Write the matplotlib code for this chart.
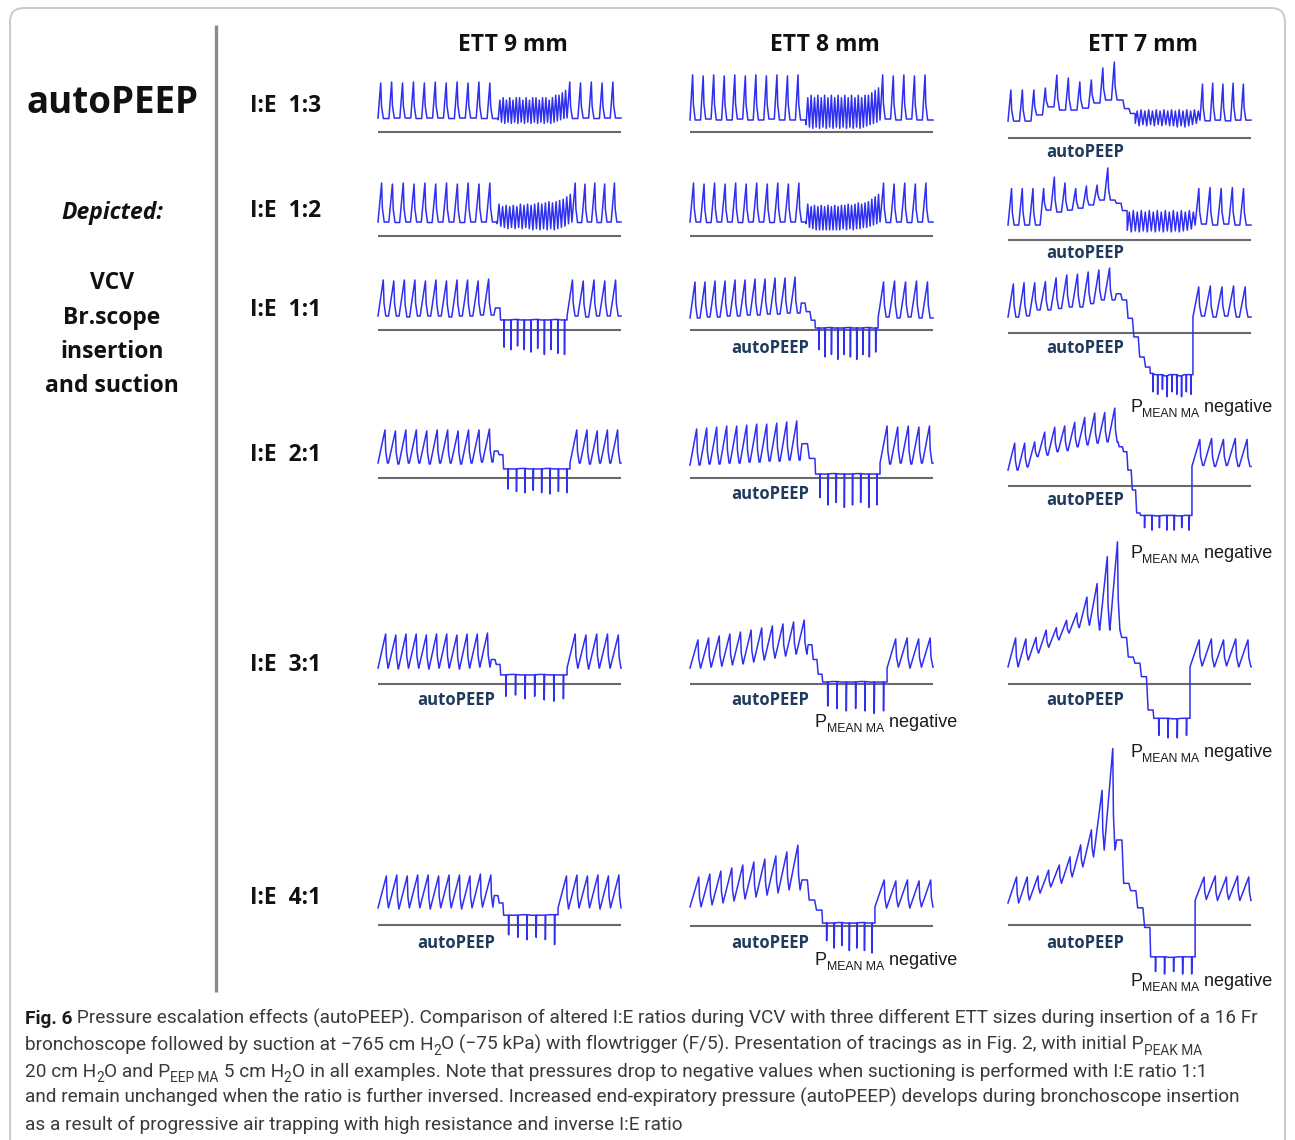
import matplotlib
matplotlib.use('Agg')

import matplotlib.pyplot as plt
from matplotlib import font_manager
from matplotlib.patches import FancyBboxPatch

W, H = 1295, 1140

ratios = ["1:3", "1:2", "1:1", "2:1", "3:1", "4:1"]
tubes = ["ETT 9 mm", "ETT 8 mm", "ETT 7 mm"]
depicted = ["VCV", "Br.scope", "insertion", "and suction"]

# pressures in cm H2O, time in % of each tracing; one entry per I:E row
# times = [end of ventilation, end of insertion steps, end of suction]

# ---- ETT 9 mm
e9_times = [[49.4, 49.4, 77.8], [49.0, 49.0, 79.8], [47.7, 50.2, 77.8],
            [47.3, 51.4, 79.0], [46.1, 50.2, 77.8], [47.3, 51.4, 74.1]]
e9_pre_peak = [
    [20.0, 20.4, 20.0, 20.4, 20.0, 20.4, 20.0, 20.4, 20.0, 20.4, 20.0],
    [21.6, 21.2, 21.6, 21.2, 21.6, 21.2, 21.6, 21.2, 21.6, 21.2, 21.6],
    [20.4, 20.0, 20.4, 20.4, 20.0, 20.4, 20.0, 20.4, 20.4, 20.0, 20.8],
    [19.6, 19.2, 19.6, 19.6, 19.2, 19.6, 19.6, 19.2, 19.6, 19.6, 20.0],
    [20.4, 20.0, 20.4, 20.4, 20.0, 20.4, 20.4, 20.0, 20.4, 20.4, 20.8],
    [20.0, 20.4, 20.0, 20.4, 20.4, 20.0, 20.4, 20.4, 20.0, 20.8, 20.4]]
e9_pre_trough = [
    [5.7, 5.5, 5.7, 5.7, 5.5, 5.7, 5.7, 5.5, 5.7, 5.7, 5.5],
    [5.7, 5.7, 5.5, 5.7, 5.7, 5.5, 5.7, 5.7, 5.5, 5.7, 5.7],
    [5.7, 5.7, 5.7, 5.3, 5.7, 5.7, 5.7, 5.3, 5.7, 5.7, 6.1],
    [6.1, 6.1, 5.7, 6.1, 6.1, 5.7, 6.1, 6.1, 5.7, 6.1, 6.5],
    [6.5, 6.5, 6.1, 6.5, 6.5, 6.1, 6.5, 6.5, 6.1, 6.5, 6.9],
    [7.0, 7.0, 6.5, 7.0, 7.0, 6.5, 7.0, 7.0, 6.5, 7.0, 7.3]]
e9_steps = [[], [], [9.0], [11.0, 9.5], [10.0, 8.0], [12.0, 9.0]]
e9_suct_hi = [
    [13, 14, 13, 14, 13, 14, 14, 13, 14, 13, 14, 14, 13, 14, 14, 13, 14, 15, 15, 16, 17],
    [13, 12, 12.5, 12, 12.5, 12, 13, 12.5, 13, 12.5, 13, 13.5, 13, 13.5, 14, 13.5, 14, 14.5, 15, 16, 17],
    [4.1, 4.1, 4.3, 4.1, 4.1, 4.3, 4.1, 4.1, 4.3, 4.1],
    [3.7, 3.7, 3.9, 3.7, 3.7, 3.9, 3.7, 3.7],
    [3.7, 3.9, 3.7, 3.7, 3.9, 3.7, 3.7],
    [4.0, 4.0, 4.2, 4.0, 4.0, 4.2]]
e9_suct_lo = [
    [5, 4, 3.5, 4, 3.5, 4, 3.5, 4, 3.5, 4, 3.5, 4, 3.5, 4, 3.5, 4, 3.5, 4, 4.5, 5, 5.5],
    [5, 4, 3.5, 3, 3.5, 3, 3.5, 3, 3.5, 3, 2.5, 3, 2.5, 3, 2.5, 3, 2.5, 3, 3.5, 4, 5],
    [-7, -8, -6.5, -8, -9, -7.5, -10, -8, -9.5, -10],
    [-4.5, -5.5, -6, -5, -6, -6.5, -5.5, -6],
    [-5, -4.5, -6, -5, -6.5, -7, -6],
    [-4, -5, -6, -5, -6, -8]]
e9_post_peak = [[20.4, 20.0, 20.4, 20.0, 20.4], [21.6, 21.2, 21.6, 21.2, 21.6],
                [20.4, 20.0, 20.4, 20.0, 20.4], [19.6, 19.6, 19.2, 19.6, 19.6],
                [20.4, 20.0, 20.4, 20.4, 20.0], [20.0, 20.4, 20.0, 20.4, 20.0, 20.4]]
e9_post_trough = [[5.7, 5.5, 5.7, 5.5, 5.7], [5.7, 5.5, 5.7, 5.5, 5.7],
                  [5.7, 5.7, 5.3, 5.7, 5.7], [6.1, 6.1, 5.7, 6.1, 6.1],
                  [6.5, 6.5, 6.1, 6.5, 6.5], [7.0, 6.5, 7.0, 7.0, 6.5, 7.0]]

# ---- ETT 8 mm
e8_times = [[47.7, 47.7, 78.2], [47.7, 47.7, 78.2], [45.3, 51.4, 77.4],
            [45.3, 51.4, 78.2], [48.1, 54.3, 81.1], [45.3, 54.3, 76.1]]
e8_pre_peak = [
    [23.3, 22.9, 23.3, 22.9, 23.3, 22.9, 23.3, 22.9, 23.3, 22.9, 23.3],
    [21.6, 21.2, 21.6, 21.2, 21.6, 21.2, 21.6, 21.2, 21.6, 21.2, 21.6],
    [19.6, 19.6, 20.0, 20.0, 20.4, 20.4, 20.8, 20.8, 21.2, 21.2, 21.6],
    [20.0, 20.4, 20.8, 21.2, 21.2, 21.6, 22.0, 22.0, 22.4, 22.9, 23.3],
    [18.0, 18.8, 19.6, 20.4, 21.2, 22.0, 22.9, 23.7, 24.5, 25.3, 26.1],
    [20.0, 21.2, 22.4, 23.7, 24.9, 26.1, 27.3, 28.6, 30.2, 33.0]]
e8_pre_trough = [
    [4.9, 4.9, 5.3, 4.9, 4.9, 5.3, 4.9, 4.9, 5.3, 4.9, 4.9],
    [5.7, 5.7, 5.5, 5.7, 5.7, 5.5, 5.7, 5.7, 5.5, 5.7, 5.7],
    [4.9, 4.9, 5.3, 5.3, 5.7, 5.7, 6.1, 6.1, 6.5, 6.5, 6.9],
    [5.3, 5.3, 5.7, 5.7, 6.1, 6.1, 6.5, 6.5, 6.9, 6.9, 7.3],
    [6.5, 6.5, 6.9, 7.3, 7.8, 8.2, 9.0, 9.8, 10.6, 11.4, 12.2],
    [7.8, 7.8, 8.6, 9.4, 10.2, 11.0, 11.8, 12.6, 13.5, 14.7]]
e8_steps = [[], [], [11.0, 7.5, 4.0], [14.0, 8.0], [16.0, 10.0, 4.0], [18.8, 10.6, 6.5]]
e8_suct_hi = [
    [14, 15, 14, 15, 14, 15, 14, 15, 14, 15, 14, 15, 14, 15, 14, 15, 14, 15, 15, 16, 17, 18],
    [13, 12, 12.5, 12, 12.5, 12, 12.5, 12, 12.5, 12, 12.5, 12.5, 13, 12.5, 13, 13.5, 13, 13.5, 14, 15, 16, 17],
    [0.8, 0.8, 1.0, 0.8, 0.8, 1.0, 0.8, 0.8, 1.0, 0.8],
    [1.6, 1.6, 1.8, 1.6, 1.6, 1.8, 1.6, 1.6],
    [0.8, 1.0, 0.8, 0.8, 1.0, 0.8, 0.8],
    [1.2, 1.2, 1.4, 1.2, 1.2, 1.4, 1.2]]
e8_suct_lo = [
    [3, 2, 1.5, 2, 1.5, 2, 1.5, 2, 1.5, 2, 1.5, 2, 1.5, 2, 1.5, 2, 1.5, 2, 2.5, 3, 3.5, 4],
    [5, 3.5, 3, 2.5, 2.5, 2.5, 2.5, 2.5, 2.5, 2.5, 2.5, 3, 2.5, 3, 2.5, 3, 3, 3.5, 3.5, 4, 4.5, 5],
    [-8, -11, -10, -12, -10, -11, -12, -10, -11, -9],
    [-8, -11, -10, -12, -11, -10, -12, -11],
    [-9, -10, -11, -10, -11, -12, -11],
    [-6, -9, -8, -10, -9, -10, -11]]
e8_post_peak = [[23.3, 22.9, 23.3, 22.9, 23.3], [21.6, 21.2, 21.6, 21.2, 21.6],
                [19.6, 20.0, 19.6, 20.0, 19.6], [21.2, 20.8, 21.2, 20.8, 21.2],
                [18.4, 18.8, 18.4, 18.8], [18.8, 18.4, 18.8, 18.4, 18.8]]
e8_post_trough = [[4.9, 5.3, 4.9, 5.3, 4.9], [5.7, 5.5, 5.7, 5.5, 5.7],
                  [4.9, 5.3, 4.9, 5.3, 4.9], [6.1, 5.7, 6.1, 5.7, 6.1],
                  [6.5, 6.9, 6.5, 6.9], [7.8, 7.3, 7.8, 7.3, 7.8]]

# ---- ETT 7 mm
e7_times = [[47.3, 52.3, 79.0], [44.0, 49.0, 77.0], [44.0, 58.4, 76.1],
            [45.3, 54.3, 75.7], [46.1, 59.7, 74.9], [44.0, 58.4, 77.0]]
e7_pre_peak = [
    [19.6, 19.6, 19.6, 20.4, 25.7, 24.5, 22.9, 23.7, 28.6, 31.0],
    [21.0, 21.0, 21.0, 21.0, 25.7, 23.3, 21.0, 22.0, 22.4, 29.4],
    [20.0, 20.5, 20.5, 21.0, 22.5, 23.7, 24.0, 24.9, 25.7, 26.5],
    [17.5, 17.5, 18.0, 22.0, 24.0, 24.5, 26.0, 28.0, 29.8, 30.0, 31.8],
    [18.8, 18.4, 19.0, 22.0, 23.0, 26.0, 29.0, 35.5, 41.0, 52.0, 58.0],
    [19.6, 19.6, 20.0, 22.4, 24.5, 27.8, 32.7, 38.8, 55.0, 72.0]]
e7_pre_trough = [
    [6.9, 6.9, 6.9, 9.4, 12.7, 11.4, 11.4, 12.2, 14.3, 15.5],
    [6.1, 6.1, 6.1, 6.1, 12.2, 11.4, 12.2, 13.0, 14.3, 16.3],
    [6.5, 6.5, 7.0, 9.4, 9.4, 10.0, 10.6, 10.6, 12.0, 13.5],
    [6.5, 6.5, 7.8, 12.0, 12.6, 14.0, 14.5, 16.0, 16.8, 17.5, 18.0],
    [7.0, 7.0, 9.8, 12.6, 15.0, 18.0, 20.8, 23.0, 24.0, 22.0, 22.0],
    [9.0, 9.0, 10.2, 13.0, 15.5, 17.0, 19.6, 23.7, 27.8, 30.6]]
e7_steps = [[12.0, 10.0], [15.0, 12.0], [16.0, 13.5, 6.0, -1.6, -9.8, -13.9],
            [16.0, 14.0, 6.5, -1.6, -11.0], [19.0, 11.0, 8.5, 3.0, -10.6],
            [34.7, 17.0, 14.0, 7.0, -1.0]]
e7_suct_hi = [
    [11, 11.5, 11, 11.5, 11, 11.5, 11, 11.5, 11, 11.5, 11, 11.5, 11, 11.5, 11, 11.5, 11],
    [11.4, 12, 11.4, 12, 11.4, 12, 11.4, 12, 11.4, 12, 11.4, 12, 11.4, 12, 11.4, 12, 11.4],
    [-16.5, -17, -17, -17.5, -17, -17, -17.5, -17, -17],
    [-12, -12, -12.2, -12, -12, -12.2, -12],
    [-14, -14, -14.2, -14],
    [-13, -13, -13.2, -13, -13]]
e7_suct_lo = [
    [6, 5, 5.5, 5, 5.5, 5, 5.5, 5, 5.5, 5, 5, 4.5, 5, 4.5, 5, 5.5, 6],
    [4, 3.3, 3.7, 3.3, 3.7, 3.3, 3.7, 3.3, 3.7, 3.3, 3.7, 3.3, 3.7, 3.3, 3.7, 4, 4.5],
    [-24, -25, -23, -26, -24, -25, -26, -24, -25],
    [-17, -18, -17, -18, -18, -17, -18],
    [-21, -22, -22, -21],
    [-19, -20, -19, -20, -20]]
e7_post_peak = [[22.0, 22.4, 22.0, 22.4, 22.0], [21.0, 21.4, 21.0, 21.4, 21.0],
                [18.8, 19.2, 18.8, 19.2, 18.8], [19.0, 19.4, 19.0, 19.4, 19.0],
                [18.0, 18.4, 18.0, 18.4, 18.0], [19.6, 20.0, 19.6, 20.0, 19.6]]
e7_post_trough = [[7.3, 7.0, 7.3, 7.0, 7.3], [6.1, 6.5, 6.1, 6.5, 6.1],
                  [6.5, 6.9, 6.5, 6.9, 6.5], [8.0, 8.4, 8.0, 8.4, 8.0],
                  [7.0, 7.4, 7.0, 7.4, 7.0], [10.0, 10.4, 10.0, 10.4, 10.0]]

# which panels carry which annotation (column, row)
autopeep_panels = [(2, 0), (2, 1), (1, 2), (2, 2), (1, 3), (2, 3),
                   (0, 4), (1, 4), (2, 4), (0, 5), (1, 5), (2, 5)]
negative_panels = [(2, 2), (2, 3), (1, 4), (2, 4), (1, 5), (2, 5)]

caption = [
    [("Fig. 6", "b"), (" Pressure escalation effects (autoPEEP). Comparison of altered I:E ratios during VCV "
                       "with three different ETT sizes during insertion of a 16 Fr", "n")],
    [("bronchoscope followed by suction at \u2212765 cm H", "n"), ("2", "s"),
     ("O (\u221275 kPa) with flowtrigger (F/5). Presentation of tracings as in Fig. 2, with initial P", "n"),
     ("PEAK MA", "s")],
    [("20 cm H", "n"), ("2", "s"), ("O and P", "n"), ("EEP MA", "s"), (" 5 cm H", "n"), ("2", "s"),
     ("O in all examples. Note that pressures drop to negative values when suctioning is performed "
      "with I:E ratio 1:1", "n")],
    [("and remain unchanged when the ratio is further inversed. Increased end-expiratory pressure "
      "(autoPEEP) develops during bronchoscope insertion", "n")],
    [("as a result of progressive air trapping with high resistance and inverse I:E ratio", "n")],
]

times = [e9_times, e8_times, e7_times]
pre_peak = [e9_pre_peak, e8_pre_peak, e7_pre_peak]
pre_trough = [e9_pre_trough, e8_pre_trough, e7_pre_trough]
steps = [e9_steps, e8_steps, e7_steps]
suct_hi = [e9_suct_hi, e8_suct_hi, e7_suct_hi]
suct_lo = [e9_suct_lo, e8_suct_lo, e7_suct_lo]
post_peak = [e9_post_peak, e8_post_peak, e7_post_peak]
post_trough = [e9_post_trough, e8_post_trough, e7_post_trough]

# ---------------------------------------------------------------- layout
col_left = [378, 690, 1008]
panel_w = 243
baselines = [[132, 132, 138], [236, 236, 240], [330, 330, 333],
             [478, 478, 486], [684, 684, 684], [925, 926, 925]]
row_label_y = [106, 211, 310, 455, 665, 898]
PX_PER_CM = 2.45
YLO, YHI = -40, 80

names = {f.name for f in font_manager.fontManager.ttflist}
cap_font = "Liberation Sans Narrow" if "Liberation Sans Narrow" in names else "Roboto"
LAB = ["Open Sans", "DejaVu Sans"]
TRACE = "#2f2ff2"
NAVY = "#1f3a5c"


def insp_fraction(r):
    i, e = (float(v) for v in r.split(":"))
    return i / (i + e)


def breath_path(t0, t1, peaks, troughs, fi):
    xs, ys = [], []
    n = len(peaks)
    T = (t1 - t0) / n
    fall = min(0.24, 1 - fi) * T
    for i in range(n):
        a = t0 + i * T
        e1 = troughs[i + 1] if i + 1 < n else troughs[i]
        top = a + fi * T
        xs += [a, top, top + 0.3 * fall, top + fall]
        ys += [troughs[i], peaks[i], e1 + 0.35 * (peaks[i] - e1), e1]
    xs.append(t1)
    ys.append(troughs[-1])
    return xs, ys


def step_path(t0, t1, levels):
    xs, ys = [], []
    if not levels:
        return xs, ys
    T = (t1 - t0) / len(levels)
    for i, lv in enumerate(levels):
        a = t0 + i * T
        xs += [a + 0.25 * T, a + T]
        ys += [lv, lv]
    return xs, ys


def osc_path(t0, t1, hi, lo):
    xs, ys = [], []
    T = (t1 - t0) / len(hi)
    for i in range(len(hi)):
        a = t0 + i * T
        xs += [a + 0.05 * T, a + 0.55 * T]
        ys += [lo[i], hi[i]]
    return xs, ys


def spike_path(t0, t1, lvl, mins):
    xs, ys = [], []
    T = (t1 - t0) / len(mins)
    for i in range(len(mins)):
        a = t0 + i * T
        xs += [a + 0.08 * T, a + 0.6 * T, a + 0.62 * T, a + 0.66 * T]
        ys += [lvl[i], lvl[i], mins[i], lvl[i]]
    xs.append(t1)
    ys.append(lvl[-1])
    return xs, ys


fig = plt.figure(figsize=(W / 100, H / 100), dpi=100)
bg = fig.add_axes([0, 0, 1, 1])
bg.set_xlim(0, W)
bg.set_ylim(H, 0)
bg.axis("off")

bg.add_patch(FancyBboxPatch((10, 8), W - 20, H + 40, boxstyle="round,pad=0,rounding_size=14",
                            ec="#c9c9c9", fc="white", lw=1.4))
bg.plot([216, 216], [25, 992], color="#8a8a8a", lw=2.4, solid_capstyle="butt")

# left block
bg.text(112, 103, "autoPEEP", ha="center", va="center", fontsize=26.5, fontweight="bold",
        family=LAB, color="#111111")
bg.text(112, 213, "Depicted:", ha="center", va="center", fontsize=16.5, fontweight="bold",
        style="italic", family=LAB, color="#111111")
for i, s in enumerate(depicted):
    bg.text(112, 283 + i * 34.5, s, ha="center", va="center", fontsize=16.5, fontweight="bold",
            family=LAB, color="#111111")

for c, name in enumerate(tubes):
    bg.text(col_left[c] + panel_w / 2 + 13, 45, name, ha="center", va="center", fontsize=16.5,
            fontweight="bold", family=LAB, color="#111111")
for r, rt in enumerate(ratios):
    bg.text(250, row_label_y[r], "I:E  " + rt, ha="left", va="center", fontsize=16.5,
            fontweight="bold", family=LAB, color="#111111")

# tracings
for c in range(3):
    for r in range(6):
        yb = baselines[r][c]
        ax = fig.add_axes([col_left[c] / W, 1 - (yb - YLO * PX_PER_CM) / H,
                           panel_w / W, (YHI - YLO) * PX_PER_CM / H])
        ax.set_xlim(0, 100)
        ax.set_ylim(YLO, YHI)
        ax.axis("off")
        ax.axhline(0, color="#6a6a6a", lw=1.5, zorder=1)

        t_pre, t_step, t_suct = times[c][r]
        fi = insp_fraction(ratios[r])
        xs, ys = breath_path(0, t_pre, pre_peak[c][r], pre_trough[c][r], fi)
        sx, sy = step_path(t_pre, t_step, steps[c][r])
        xs += sx
        ys += sy
        if fi < 0.5:
            sx, sy = osc_path(t_step, t_suct, suct_hi[c][r], suct_lo[c][r])
        else:
            sx, sy = spike_path(t_step, t_suct, suct_hi[c][r], suct_lo[c][r])
        xs += sx
        ys += sy
        sx, sy = breath_path(t_suct, 100, post_peak[c][r], post_trough[c][r], fi)
        xs += sx
        ys += sy
        ax.plot(xs, ys, color=TRACE, lw=1.1, clip_on=False, zorder=2)

top = fig.add_axes([0, 0, 1, 1])
top.set_xlim(0, W)
top.set_ylim(H, 0)
top.axis("off")


def rich(x, y, parts, size, family, color, sub_scale=0.72, drop=3.0, bold_color=None):
    prev, prev_sub = None, False
    for s, kind in parts:
        sub = kind == "s"
        kw = dict(fontsize=size * sub_scale if sub else size, family=family,
                  color=bold_color if (kind == "b" and bold_color) else color,
                  fontweight="bold" if kind == "b" else "normal", ha="left")
        if prev is None:
            prev = top.text(x, y, s, va="baseline", **kw)
        else:
            dy = -drop if sub else (drop if prev_sub else 0)
            prev = top.annotate(s, xy=(1, 0), xycoords=prev, xytext=(0, dy),
                                textcoords="offset points", va="bottom", **kw)
        prev_sub = sub


autopeep_xy = {(2, 0): (1085, 152), (2, 1): (1085, 253), (1, 2): (770, 348), (2, 2): (1085, 348),
               (1, 3): (770, 494), (2, 3): (1085, 500), (0, 4): (456, 700), (1, 4): (770, 700),
               (2, 4): (1085, 700), (0, 5): (456, 943), (1, 5): (770, 943), (2, 5): (1085, 943)}
for key in autopeep_panels:
    x, y = autopeep_xy[key]
    top.text(x, y, "autoPEEP", ha="center", va="center", fontsize=12, fontweight="bold",
             family=LAB, color=NAVY)

negative_xy = {(2, 2): (1130, 412), (2, 3): (1130, 558), (1, 4): (815, 727),
               (2, 4): (1130, 757), (1, 5): (815, 965), (2, 5): (1130, 986)}
for key in negative_panels:
    x, y = negative_xy[key]
    rich(x, y, [("P", "n"), ("MEAN MA", "s"), (" negative", "n")], 13,
         ["Liberation Sans", "DejaVu Sans"], "#1a1a1a", sub_scale=0.68, drop=3.2)

# caption: size chosen so that the first (full, justified) line spans the text block
renderer = fig.canvas.get_renderer()
pw = 0
for s, kind in caption[0]:
    probe = top.text(0, 0, s, fontsize=10, family=[cap_font, "DejaVu Sans"],
                     fontweight="bold" if kind == "b" else "normal")
    pw += probe.get_window_extent(renderer).width
    probe.remove()
cap_size = 10 * 1238 / pw
for i, line in enumerate(caption):
    rich(25, 1024 + i * 26.4, line, cap_size, [cap_font, "DejaVu Sans"], "#3a3a3a",
         sub_scale=0.72, drop=2.8, bold_color="#1a1a1a")

fig.savefig("out.png", dpi=100)
